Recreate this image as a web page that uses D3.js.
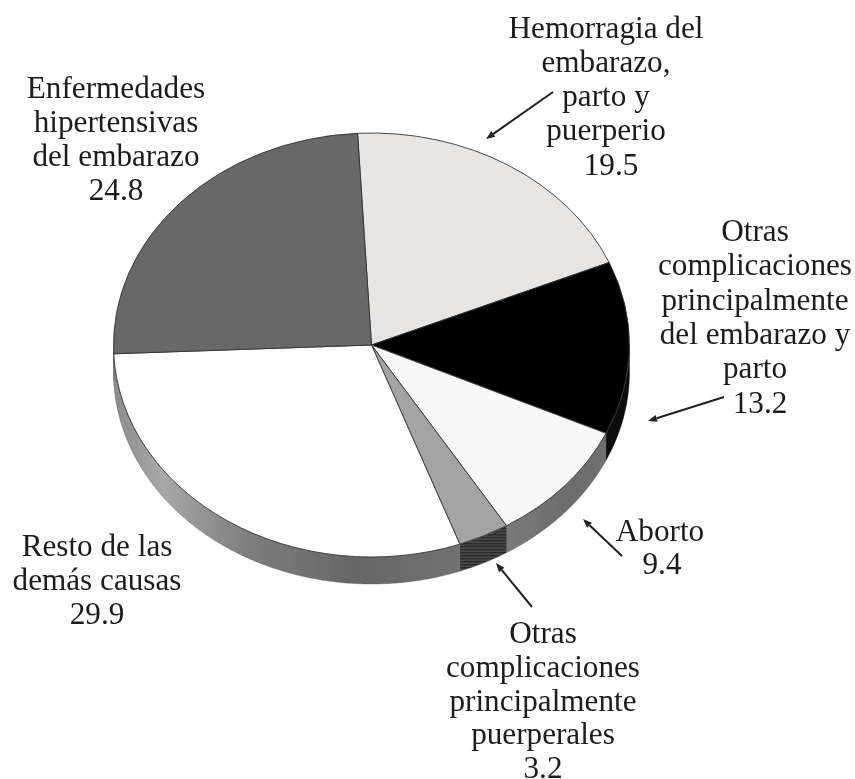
<!DOCTYPE html>
<html><head><meta charset="utf-8">
<script src="https://cdn.jsdelivr.net/npm/d3@7"></script>
<style>html,body{margin:0;padding:0;background:#fff;overflow:hidden}svg{display:block}text{font-family:"Liberation Serif",serif;font-size:31.2px;fill:#1a1a1a;text-anchor:middle}</style>
</head><body><svg id="c" width="855" height="779"></svg>
<script>
const categories = ["Hemorragia del embarazo, parto y puerperio","Otras complicaciones principalmente del embarazo y parto","Aborto","Otras complicaciones principalmente puerperales","Resto de las demás causas","Enfermedades hipertensivas del embarazo"];
const values = [19.5,13.2,9.4,3.2,29.9,24.8];
const labelLines = [["Hemorragia del","embarazo,","parto y","puerperio"],["Otras","complicaciones","principalmente","del embarazo y","parto"],["Aborto"],["Otras","complicaciones","principalmente","puerperales"],["Resto de las","demás causas"],["Enfermedades","hipertensivas","del embarazo"]];
const topColors = ["#e7e4e4","#050505","#f8f8f8","url(#chk)","#ffffff","#676767"];
const sideColors = ["#aaa","#0a0a0a","url(#gA)","url(#hat)","url(#gR)","#555"];
const labelPos = [[606,37.5,34.3,5],[755,241,34.3,5],[660,540.5,33,2],[543,643,33.8,0],[97,556,34,0],[116,98,34,0]];
const arrows = [[553,92,486,139],[724,397,648,421],[622,556,583,519],[532,607,496,563]];

const cx=371.5, cy=345, rx=258, ry=212, depth=27, startDeg=-3.1;
const svg=d3.select("#c");
const defs=svg.append("defs");
const blur=defs.append("filter").attr("id","soft").attr("x","-5%").attr("y","-5%").attr("width","110%").attr("height","110%");
blur.append("feGaussianBlur").attr("stdDeviation",0.6);
const chk=defs.append("pattern").attr("id","chk").attr("width",3).attr("height",3).attr("patternUnits","userSpaceOnUse");
chk.append("rect").attr("width",3).attr("height",3).attr("fill","#bcbcbc");
chk.append("rect").attr("width",1.5).attr("height",1.5).attr("fill","#8a8a8a");
chk.append("rect").attr("x",1.5).attr("y",1.5).attr("width",1.5).attr("height",1.5).attr("fill","#8a8a8a");
const hat=defs.append("pattern").attr("id","hat").attr("width",3).attr("height",3).attr("patternUnits","userSpaceOnUse");
hat.append("rect").attr("width",3).attr("height",3).attr("fill","#4a4a4a");
hat.append("rect").attr("width",3).attr("height",1.4).attr("fill","#2a2a2a");
function grad(id,stops,x1,x2){const g=defs.append("linearGradient").attr("id",id).attr("gradientUnits","userSpaceOnUse").attr("x1",x1-cx).attr("x2",x2-cx).attr("y1",0).attr("y2",0);
 stops.forEach(s=>g.append("stop").attr("offset",s[0]).attr("stop-color",s[1]));}
grad("gR",[[0,"#8a8a8a"],[.14,"#a8a8a8"],[.4,"#7c7c7c"],[.7,"#666"],[1,"#727272"]],113,460);
grad("gA",[[0,"#7a7a7a"],[.6,"#6c6c6c"],[1,"#707070"]],507,610);

const root=svg.append("g").attr("filter","url(#soft)");
const pie=d3.pie().sort(null).startAngle(startDeg*Math.PI/180).endAngle((startDeg+360)*Math.PI/180);
const arcs=pie(values);
const px=a=>rx*Math.sin(a), py=a=>ry*-Math.cos(a);
const sideG=root.append("g").attr("transform",`translate(${cx},${cy})`);
arcs.forEach((d,i)=>{
  const a0=Math.max(d.startAngle,Math.PI/2), a1=Math.min(d.endAngle,Math.PI*1.5);
  if(a1<=a0) return;
  const angs=d3.range(a0,a1,0.01).concat([a1]);
  const pts=angs.map(a=>[px(a),py(a)]).concat(angs.slice().reverse().map(a=>[px(a),py(a)+depth]));
  sideG.append("path").attr("d",d3.line()(pts)+"Z").attr("fill",sideColors[i]).attr("stroke",sideColors[i]==="#0a0a0a"?"#0a0a0a":"#555").attr("stroke-width",0.4);
});
const arc=d3.arc().innerRadius(0).outerRadius(rx);
const face=root.append("g").attr("transform",`translate(${cx},${cy}) scale(1,${ry/rx})`);
face.selectAll("path").data(arcs).join("path").attr("d",arc).attr("fill",(d,i)=>topColors[i])
  .attr("stroke","#333").attr("stroke-width",0.9).attr("vector-effect","non-scaling-stroke");
const lab=root.append("g");
arrows.forEach(a=>{
  const ang=Math.atan2(a[3]-a[1],a[2]-a[0]);
  const h=9,w=3.5,bx=a[2]-h*Math.cos(ang),by=a[3]-h*Math.sin(ang);
  lab.append("line").attr("x1",a[0]).attr("y1",a[1]).attr("x2",bx).attr("y2",by).attr("stroke","#222").attr("stroke-width",2);
  lab.append("path").attr("d",d3.line()([[a[2],a[3]],[bx-w*Math.sin(ang),by+w*Math.cos(ang)],[bx+w*Math.sin(ang),by-w*Math.cos(ang)]])+"Z").attr("fill","#222");
});
labelLines.forEach((ls,i)=>{
  const [x,y,dy,vdx]=labelPos[i];
  ls.forEach((t,j)=>lab.append("text").attr("x",x).attr("y",y+j*dy).text(t));
  lab.append("text").attr("x",x+vdx).attr("y",y+ls.length*dy).text(String(values[i]));
});
</script></body></html>
